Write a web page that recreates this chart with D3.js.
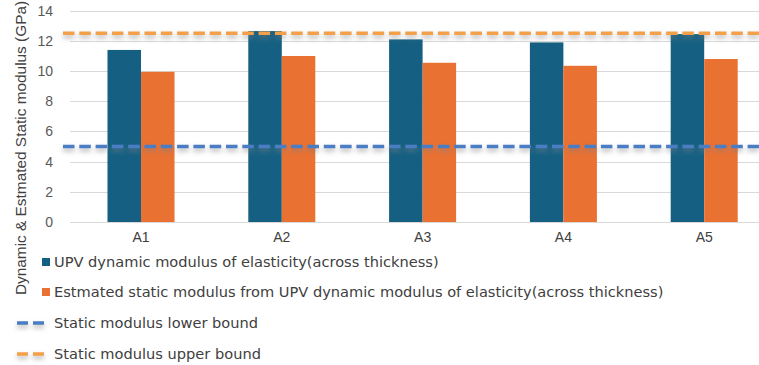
<!DOCTYPE html>
<html>
<head>
<meta charset="utf-8">
<script src="https://cdn.jsdelivr.net/npm/d3@7"></script>
<style>
  html, body { margin: 0; padding: 0; background: #ffffff; }
  svg { display: block; }
</style>
</head>
<body>
<svg id="chart" width="759" height="365"></svg>
<script>
// Specimens and measured moduli (GPa)
const categories = ["A1", "A2", "A3", "A4", "A5"];
const seriesNames = [
  "UPV dynamic modulus of elasticity(across thickness)",
  "Estmated static modulus from UPV dynamic modulus of elasticity(across thickness)"
];
const dynamicModulus = [11.4, 12.65, 12.1, 11.9, 12.45];
const staticModulus = [9.95, 11.0, 10.55, 10.35, 10.8];
const lowerBound = 5.0;
const upperBound = 12.5;
const boundNames = ["Static modulus lower bound", "Static modulus upper bound"];
const yTicks = [0, 2, 4, 6, 8, 10, 12, 14];
const yTitle = "Dynamic & Estmated Static modulus (GPa)";

const barColors = ["#156082", "#e97132"];
const lineColors = ["#4a7dc4", "#f4a04a"];

const svg = d3.select("#chart");
const W = 759;

// soft grey drop shadow under the bound lines (user-space region, lines have zero height)
const defs = svg.append("defs");
const shadow = defs.append("filter").attr("id", "lineShadow")
  .attr("filterUnits", "userSpaceOnUse")
  .attr("x", 0).attr("y", 0).attr("width", W).attr("height", 365);
shadow.append("feDropShadow")
  .attr("dx", 0).attr("dy", 3).attr("stdDeviation", 2.4)
  .attr("flood-color", "#7f7f7f").attr("flood-opacity", 0.6);

const y = d3.scaleLinear().domain([0, 14]).range([222, 10.7]);
const x0 = d3.scaleBand().domain(categories).range([70.6, 774.6])
  .paddingInner(0.524).paddingOuter(0.262);
const x1 = d3.scaleBand().domain([0, 1]).range([0, x0.bandwidth()]);

// gridlines
svg.append("g").selectAll("line").data(yTicks).join("line")
  .attr("x1", 70).attr("x2", W)
  .attr("y1", d => Math.round(y(d)) + 0.5).attr("y2", d => Math.round(y(d)) + 0.5)
  .attr("stroke", "#d9d9d9").attr("stroke-width", 1);

// y axis labels
const yAxis = svg.append("g").attr("transform", "translate(53,0)")
  .call(d3.axisLeft(y).tickValues(yTicks).tickSize(0).tickPadding(0));
yAxis.select(".domain").remove();
yAxis.selectAll("text")
  .attr("font-family", "Liberation Sans, Arial, sans-serif")
  .attr("font-size", 14).attr("fill", "#595959");

// y title
svg.append("text")
  .attr("transform", "translate(26,148) rotate(-90)")
  .attr("text-anchor", "middle")
  .attr("font-family", "Liberation Sans, Arial, sans-serif")
  .attr("font-size", 15.4).attr("fill", "#404040")
  .text(yTitle);

// x labels
const xAxis = svg.append("g").attr("transform", "translate(0,232)")
  .call(d3.axisBottom(x0).tickSize(0).tickPadding(0));
xAxis.select(".domain").remove();
xAxis.selectAll("text")
  .attr("font-family", "Liberation Sans, Arial, sans-serif")
  .attr("font-size", 14).attr("fill", "#404040");

// bars
const seriesValues = [dynamicModulus, staticModulus];
const groups = svg.append("g").selectAll("g").data(categories).join("g")
  .attr("transform", d => `translate(${x0(d)},0)`);
groups.selectAll("rect")
  .data((d, i) => seriesValues.map((vals, s) => ({ s, v: vals[i] })))
  .join("rect")
  .attr("x", d => x1(d.s))
  .attr("width", x1.bandwidth())
  .attr("y", d => y(d.v))
  .attr("height", d => y(0) - y(d.v))
  .attr("fill", d => barColors[d.s]);

// bound lines
const bounds = [lowerBound, upperBound];
svg.append("g").selectAll("line").data(bounds).join("line")
  .attr("x1", 63).attr("x2", W + 10)
  .attr("y1", d => y(d)).attr("y2", d => y(d))
  .attr("stroke", (d, i) => lineColors[i])
  .attr("stroke-width", 3.5)
  .attr("stroke-dasharray", "11.5,4.8")
  .attr("filter", "url(#lineShadow)");

// legend
const legendFont = "DejaVu Sans, sans-serif";
const legendSize = 14.6;
const rowsY = [262, 292, 323, 354];
const leg = svg.append("g");
seriesNames.forEach((name, i) => {
  leg.append("rect").attr("x", 42).attr("y", rowsY[i] - 4).attr("width", 8).attr("height", 8)
    .attr("fill", barColors[i]);
  leg.append("text").attr("x", 54).attr("y", rowsY[i]).attr("dy", "0.35em")
    .attr("font-family", legendFont).attr("font-size", legendSize).attr("fill", "#404040")
    .text(name);
});
boundNames.forEach((name, i) => {
  const yy = rowsY[i + 2];
  leg.append("line").attr("x1", 17).attr("x2", 44).attr("y1", yy).attr("y2", yy)
    .attr("stroke", lineColors[i]).attr("stroke-width", 3.5)
    .attr("stroke-dasharray", "11,5")
    .attr("filter", "url(#lineShadow)");
  leg.append("text").attr("x", 54).attr("y", yy).attr("dy", "0.35em")
    .attr("font-family", legendFont).attr("font-size", legendSize).attr("fill", "#404040")
    .text(name);
});
</script>
</body>
</html>
